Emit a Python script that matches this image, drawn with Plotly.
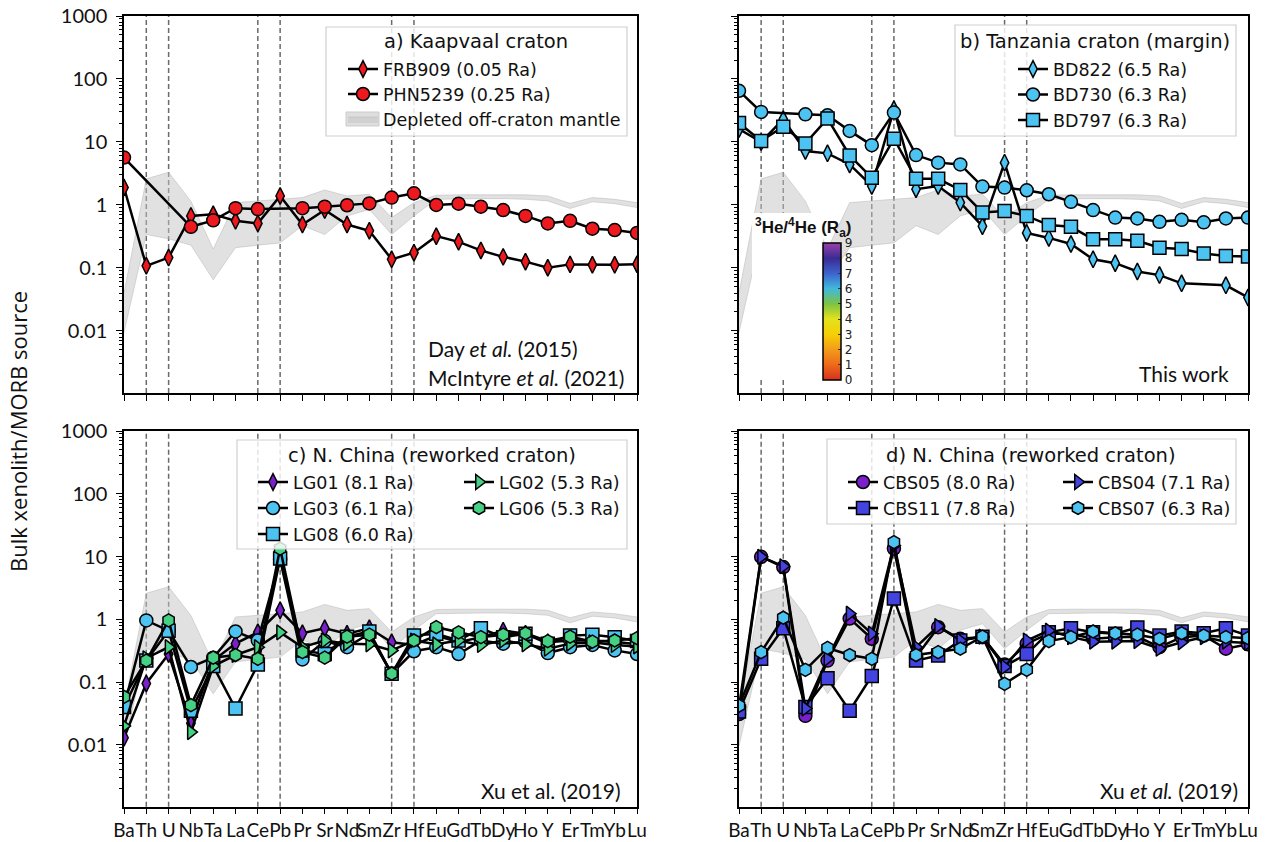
import plotly.graph_objects as go

W, H = 1271, 842

# ---------------- data ----------------
elements = ["Ba", "Th", "U", "Nb", "Ta", "La", "Ce", "Pb", "Pr", "Sr", "Nd", "Sm",
            "Zr", "Hf", "Eu", "Gd", "Tb", "Dy", "Ho", "Y", "Er", "Tm", "Yb", "Lu"]
xpos = list(range(len(elements)))
dashed_elements = ["Th", "U", "Ce", "Pb", "Zr", "Hf"]

band_upper = [0.04, 2.6, 3.3, 1.15, 0.2, 1.09, 1.16, 1.23, 1.31, 1.73, 1.39, 1.48,
              0.63, 1.09, 1.43, 1.45, 1.45, 1.47, 1.45, 1.39, 1.06, 1.31, 1.23, 1.09]
band_lower = [0.0095, 0.34, 0.29, 0.23, 0.065, 0.21, 0.23, 0.25, 0.47, 0.34, 0.67, 0.85,
              0.34, 0.67, 1.23, 1.26, 1.26, 1.26, 1.23, 1.16, 0.88, 1.12, 1.05, 0.91]

# a) Kaapvaal craton
frb909 = [1.89, 0.108, 0.146, 0.67, 0.71, 0.56, 0.51, 1.39, 0.49, 0.83, 0.49, 0.39,
          0.137, 0.175, 0.32, 0.26, 0.19, 0.15, 0.126, 0.101, 0.114, 0.112, 0.112, 0.115]
phn5239 = [5.65, None, None, 0.45, 0.57, 0.89, 0.86, None, 0.89, 0.94, 0.99, 1.06,
           1.31, 1.53, 1.0, 1.05, 0.94, 0.83, 0.67, 0.51, 0.56, 0.42, 0.40, 0.36]

# b) Tanzania craton
bd822 = [16, 10, 23, 7.2, 6.6, 4.4, 2.0, 33, 1.78, 2.0, 1.09, 0.46,
         4.7, 0.36, 0.30, 0.24, 0.137, 0.119, 0.088, 0.077, 0.057, None, 0.053, 0.034]
bd730 = [65, 30, None, 27.5, 26.5, 15, 8.9, 29.3, 6.2, 4.7, 4.4, 1.96,
         1.89, 1.71, 1.48, 1.12, 0.83, 0.63, 0.61, 0.54, 0.58, 0.53, 0.61, 0.63]
bd797 = [20, 10.4, 17.5, 9.5, 23.5, 6.1, 2.7, 11.3, 2.6, 2.6, 1.73, 0.76,
         0.80, 0.67, 0.48, 0.45, 0.286, 0.286, 0.27, 0.21, 0.20, 0.17, 0.155, 0.152]

# c) N. China (LG)
lg01 = [0.013, 0.095, 0.28, 0.022, 0.22, 0.41, 0.62, 1.39, 0.60, 0.72, 0.59, 0.72,
        0.43, 0.39, 0.55, 0.43, 0.52, 0.66, 0.59, 0.43, 0.46, 0.46, 0.44, 0.40]
lg03 = [0.04, 0.96, 0.66, 0.174, 0.245, 0.64, 0.46, 9.0, 0.23, 0.45, 0.36, 0.59,
        0.136, 0.31, 0.36, 0.28, 0.46, 0.41, 0.44, 0.29, 0.36, 0.39, 0.32, 0.28]
lg08 = [0.04, 0.22, 0.66, 0.035, 0.18, 0.038, 0.19, 9.3, 0.32, 0.28, 0.53, 0.64,
        0.136, 0.55, 0.59, 0.46, 0.72, 0.52, 0.59, 0.41, 0.55, 0.57, 0.52, 0.45]
lg02 = [0.02, 0.24, 0.36, 0.016, 0.18, 0.27, 0.36, 0.62, 0.36, 0.46, 0.41, 0.40,
        0.32, 0.46, 0.40, 0.46, 0.39, 0.46, 0.40, 0.34, 0.41, 0.43, 0.39, 0.37]
lg06 = [0.058, 0.22, 0.96, 0.043, 0.245, 0.27, 0.235, 13.4, 0.30, 0.245, 0.53, 0.57,
        0.136, 0.46, 0.75, 0.62, 0.52, 0.57, 0.60, 0.45, 0.53, 0.44, 0.46, 0.50]

# d) N. China (CBS)
cbs05 = [0.031, 9.9, 6.8, 0.029, 0.22, 1.03, 0.49, 13.4, 0.25, 0.75, 0.49, 0.52,
         0.19, 0.41, 0.59, 0.59, 0.49, 0.52, 0.53, 0.36, 0.52, 0.55, 0.34, 0.40]
cbs11 = [0.034, 0.235, 0.72, 0.040, 0.115, 0.035, 0.125, 2.14, 0.22, 0.265, 0.46, 0.53,
         0.18, 0.28, 0.62, 0.72, 0.62, 0.59, 0.74, 0.55, 0.64, 0.60, 0.72, 0.55]
cbs04 = [0.04, 9.9, 7.0, 0.038, 0.235, 1.23, 0.59, 15, 0.36, 0.78, 0.46, 0.53,
         0.174, 0.46, 0.66, 0.52, 0.44, 0.44, 0.45, 0.34, 0.43, 0.52, 0.44, 0.42]
cbs07 = [0.042, 0.3, 1.06, 0.157, 0.35, 0.27, 0.235, 17, 0.27, 0.30, 0.34, 0.53,
         0.094, 0.157, 0.45, 0.52, 0.64, 0.60, 0.57, 0.49, 0.60, 0.55, 0.52, 0.50]

y_ticks = [0.01, 0.1, 1, 10, 100, 1000]
y_ticktext = ["0.01", "0.1", "1", "10", "100", "1000"]
cbar_ticks = [0, 1, 2, 3, 4, 5, 6, 7, 8, 9]

# ---------------- styles ----------------
RED = "#ec1a1f"
SKY = "#4dc3f2"
PURPLE = "#7a1fcc"
BLUE = "#4343e0"
GREEN = "#45d083"

colorscale = [[0, "#d7301f"], [1/9, "#ee6a1a"], [2/9, "#f39c1a"], [3/9, "#f6cf05"],
              [4/9, "#e4e21d"], [5/9, "#7cc344"], [6/9, "#40b9dc"], [7/9, "#3d63cc"],
              [8/9, "#3a2b93"], [1, "#9b3fa9"]]

LEG_SIZE = 17.5
LEG_FONT = dict(family="DejaVu Sans", size=LEG_SIZE, color="#111")
TITLE_FONT = dict(family="DejaVu Sans", size=19.5, color="#111")
TXT_FONT = dict(family="Lato", size=21, color="#111")

minor_vals = [k * 10 ** d for d in range(-3, 3) for k in range(2, 10)]

def px(x):
    return x / W

def py(y):
    return 1 - y / H

dom_x = {1: [px(124), px(637)], 2: [px(739), px(1248)], 3: [px(124), px(637)], 4: [px(739), px(1248)]}
dom_y = {1: [py(393), py(16)], 2: [py(393), py(16)], 3: [py(806.7), py(431)], 4: [py(806.7), py(431)]}

# legend entry placement: (text start x, row centre y) in pixels
leg_pos = {}
ROW_H = LEG_SIZE * 1.3 + 3
def legend_for(key, text_x, row_y):
    leg_pos[key] = (text_x - 40, row_y - (ROW_H / 2 + 5))
    return key

fig = go.Figure()

def ax_names(i):
    return ("x" if i == 1 else f"x{i}"), ("y" if i == 1 else f"y{i}")

# band traces (under data)
for i in range(1, 5):
    xa, ya = ax_names(i)
    fig.add_trace(go.Scatter(x=xpos, y=band_lower, xaxis=xa, yaxis=ya, mode="lines",
                             line=dict(color="rgba(175,175,175,0.55)", width=0.8),
                             showlegend=False, hoverinfo="skip"))
    fig.add_trace(go.Scatter(x=xpos, y=band_upper, xaxis=xa, yaxis=ya, mode="lines",
                             line=dict(color="rgba(175,175,175,0.55)", width=0.8),
                             fill="tonexty", fillcolor="rgba(195,195,195,0.5)",
                             name="Depleted off-craton mantle", showlegend=(i == 1),
                             legend=legend_for("legend3", 383, 119) if i == 1 else "legend",
                             hoverinfo="skip"))

def series(i, name, y, symbol, color, legend, size=13):
    xa, ya = ax_names(i)
    fig.add_trace(go.Scatter(
        x=xpos, y=y, xaxis=xa, yaxis=ya, mode="lines+markers", connectgaps=True,
        line=dict(color="black", width=2.5),
        marker=dict(symbol=symbol, size=size, color=color, line=dict(color="black", width=1.5)),
        name=name, legend=legend))

series(1, "FRB909 (0.05 Ra)", frb909, "diamond-tall", RED, legend_for("legend", 383, 69), 12)
series(1, "PHN5239 (0.25 Ra)", phn5239, "circle", RED, legend_for("legend2", 383, 94))

series(2, "BD822 (6.5 Ra)", bd822, "diamond-tall", SKY, legend_for("legend4", 1053, 69), 12)
series(2, "BD730 (6.3 Ra)", bd730, "circle", SKY, legend_for("legend5", 1053, 94.5))
series(2, "BD797 (6.3 Ra)", bd797, "square", SKY, legend_for("legend6", 1053, 120))

series(3, "LG01 (8.1 Ra)", lg01, "diamond-tall", PURPLE, legend_for("legend7", 293, 482), 12)
series(3, "LG03 (6.1 Ra)", lg03, "circle", SKY, legend_for("legend8", 293, 508))
series(3, "LG08 (6.0 Ra)", lg08, "square", SKY, legend_for("legend9", 293, 534))
series(3, "LG02 (5.3 Ra)", lg02, "triangle-right", GREEN, legend_for("legend10", 499, 482))
series(3, "LG06 (5.3 Ra)", lg06, "hexagon", GREEN, legend_for("legend11", 499, 508))

series(4, "CBS05 (8.0 Ra)", cbs05, "circle", PURPLE, legend_for("legend12", 883, 482))
series(4, "CBS11 (7.8 Ra)", cbs11, "square", BLUE, legend_for("legend13", 883, 508))
series(4, "CBS04 (7.1 Ra)", cbs04, "triangle-right", BLUE, legend_for("legend14", 1098, 482))
series(4, "CBS07 (6.3 Ra)", cbs07, "hexagon", SKY, legend_for("legend15", 1098, 508))

# colorbar carrier (point outside visible range)
fig.add_trace(go.Scatter(
    x=[0], y=[1e-7], xaxis="x2", yaxis="y2", mode="markers", showlegend=False, hoverinfo="skip",
    marker=dict(color=[0], cmin=0, cmax=9, colorscale=colorscale, showscale=True, size=1,
                colorbar=dict(x=px(823), xanchor="left", y=py(243), yanchor="top",
                              len=137, lenmode="pixels", thickness=18, thicknessmode="pixels",
                              outlinewidth=1.5, outlinecolor="black", xpad=0, ypad=0,
                              tickvals=cbar_ticks, ticks="inside", ticklen=3, tickcolor="#333",
                              tickfont=dict(family="DejaVu Sans", size=12, color="#222"),
                              bgcolor="rgba(0,0,0,0)", borderwidth=0))))

# ---------------- axes ----------------
layout_axes = {}
for i in range(1, 5):
    xa, ya = ax_names(i)
    xkey = "xaxis" if i == 1 else f"xaxis{i}"
    ykey = "yaxis" if i == 1 else f"yaxis{i}"
    layout_axes[xkey] = dict(
        domain=dom_x[i], anchor=ya, range=[0, 23], tickmode="array", tickvals=xpos,
        ticktext=elements, showticklabels=(i >= 3), tickangle=0,
        tickfont=dict(family="Lato", size=19, color="#111"),
        showline=True, linecolor="black", linewidth=1.5, mirror=True,
        ticks="outside", ticklen=6, tickwidth=1.3, tickcolor="black",
        showgrid=False, zeroline=False, automargin=False, fixedrange=True)
    layout_axes[ykey] = dict(
        domain=dom_y[i], anchor=xa, type="log", range=[-2.985, 3],
        tickmode="array", tickvals=y_ticks, ticktext=y_ticktext,
        showticklabels=(i in (1, 3)), tickfont=dict(family="Lato", size=20, color="#111"),
        ticklabelstandoff=5,
        showline=True, linecolor="black", linewidth=1.5, mirror=True,
        ticks="outside", ticklen=6, tickwidth=1.3, tickcolor="black",
        minor=dict(tickmode="array", tickvals=minor_vals, ticks="outside", ticklen=3.5,
                   tickwidth=1, tickcolor="black", showgrid=False),
        showgrid=False, zeroline=False, automargin=False, fixedrange=True)

# ---------------- shapes ----------------
shapes = []
for i in range(1, 5):
    xa, ya = ax_names(i)
    for el in dashed_elements:
        xv = elements.index(el)
        shapes.append(dict(type="line", xref=xa, yref=f"{ya} domain", x0=xv, x1=xv, y0=0, y1=1,
                           line=dict(color="#6a6a6a", width=1.5, dash="5px,3px"), layer="below"))

def box(x0, x1, y0, y1):
    return dict(type="rect", xref="paper", yref="paper", x0=px(x0), x1=px(x1), y0=py(y1), y1=py(y0),
                fillcolor="rgba(255,255,255,0.82)", line=dict(color="#cfcfcf", width=1.2), layer="above")

shapes.append(box(326, 627, 27, 136))
shapes.append(box(955, 1236, 25, 136))
shapes.append(box(237, 627, 440, 549))
shapes.append(box(827, 1236, 439, 524))
# full-height swatch for the band legend entry
shapes.append(dict(type="rect", xref="paper", yref="paper", x0=px(346), x1=px(379), y0=py(126), y1=py(112),
                   fillcolor="#dedede", line=dict(color="#cccccc", width=1), layer="above"))
# white area behind colorbar title
shapes.append(dict(type="rect", xref="paper", yref="paper", x0=px(752), x1=px(823), y0=py(380), y1=py(213),
                   fillcolor="white", line=dict(width=0), layer="above"))

# ---------------- legends ----------------
legends = {}
for key, (L, top) in leg_pos.items():
    legends[key] = dict(x=px(L), y=py(top), xanchor="left", yanchor="top", xref="paper", yref="paper",
                        bgcolor="rgba(0,0,0,0)", borderwidth=0, font=LEG_FONT, tracegroupgap=0,
                        orientation="v", itemsizing="trace", traceorder="normal")

# ---------------- annotations ----------------
ann = []
def text(x, y, s, font, xanchor="center", yanchor="middle", **kw):
    ann.append(dict(x=px(x), y=py(y), xref="paper", yref="paper", text=s, showarrow=False,
                    xanchor=xanchor, yanchor=yanchor, font=font, **kw))

text(476, 42, "a) Kaapvaal craton", TITLE_FONT)
text(1095, 42, "b) Tanzania craton (margin)", TITLE_FONT)
text(432, 455, "c) N. China (reworked craton)", TITLE_FONT)
text(1031, 455, "d) N. China (reworked craton)", TITLE_FONT)

text(426, 348, "Day <i>et al.</i> (2015)", TXT_FONT, xanchor="left")
text(426, 377, "McIntyre <i>et al.</i> (2021)", TXT_FONT, xanchor="left")
text(1231, 374, "This work", TXT_FONT, xanchor="right")
text(623, 790, "Xu et al. (2019)", TXT_FONT, xanchor="right")
text(1240, 790, "Xu <i>et al.</i> (2019)", TXT_FONT, xanchor="right")

text(803, 227, "<b><sup>3</sup>He/<sup>4</sup>He (R<sub>a</sub>)</b>",
     dict(family="Liberation Sans", size=17, color="#111"))

text(18, 432, "Bulk xenolith/MORB source", dict(family="Open Sans", size=22, color="#111"),
     textangle=-90)

fig.update_layout(
    width=W, height=H, margin=dict(l=0, r=0, t=0, b=0),
    template="none", paper_bgcolor="white", plot_bgcolor="rgba(0,0,0,0)",
    shapes=shapes, annotations=ann, **layout_axes, **legends,
)

fig.write_html("out.html")
